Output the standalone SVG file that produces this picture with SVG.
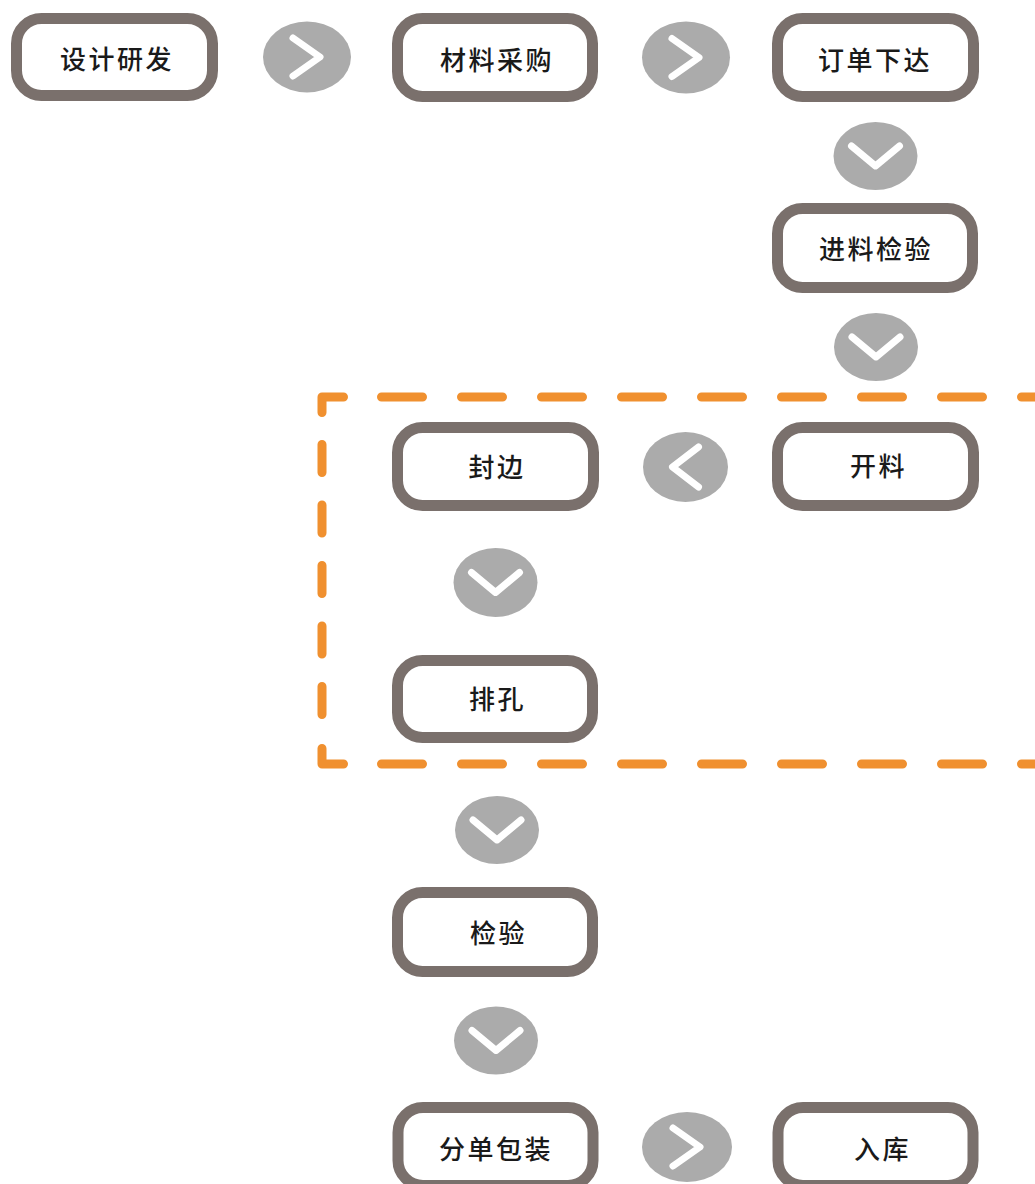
<svg xmlns="http://www.w3.org/2000/svg" xmlns:xlink="http://www.w3.org/1999/xlink" width="1035" height="1184" viewBox="0 0 1035 1184">
  <style>
    .box { fill: #ffffff; stroke: #7a706c; stroke-width: 11; }
    .lbl { font-family: "Noto Sans CJK SC", "Noto Sans", sans-serif; font-size: 26px; font-weight: 500; fill: #1a1a1a; text-anchor: middle; letter-spacing: 2.5px; }
    .dot { fill: #ababab; }
    .chev { fill: none; stroke: #ffffff; stroke-width: 7; stroke-linecap: round; stroke-linejoin: round; }
    .dash { fill: none; stroke: #f0902f; stroke-width: 9; stroke-linecap: round; stroke-linejoin: round; }
  </style>
  <defs>
    <path id="chev-right" class="chev" d="M-14,-19 L13,0 L-14,19"/>
    <path id="chev-left" class="chev" d="M13,-20 L-13,0 L13,20"/>
    <path id="chev-down" class="chev" d="M-24,-10 L0,10 L24,-10"/>
  </defs>

  <rect width="1035" height="1184" fill="#ffffff"/>

  <!-- dashed frame around the panel-processing steps -->
  <g id="frame">
    <path class="dash" d="M322,412.5 V397 H343.5"/>
    <path class="dash" d="M381.5,397 H1045" stroke-dasharray="41 39"/>
    <path class="dash" d="M322,444.5 V720" stroke-dasharray="28 32.5"/>
    <path class="dash" d="M322,748.5 V764 H343.5"/>
    <path class="dash" d="M381.5,764 H1045" stroke-dasharray="41 39"/>
  </g>

  <!-- arrow badges between steps -->
  <g id="connectors">
    <g id="c-design-purchase"><ellipse class="dot" cx="307" cy="57" rx="44" ry="35.5"/><use xlink:href="#chev-right" href="#chev-right" transform="translate(307,57)"/></g>
    <g id="c-purchase-order"><ellipse class="dot" cx="686" cy="57.5" rx="44" ry="36"/><use xlink:href="#chev-right" href="#chev-right" transform="translate(686,57.5)"/></g>
    <g id="c-order-inspect"><ellipse class="dot" cx="875.5" cy="156" rx="42" ry="34"/><use xlink:href="#chev-down" href="#chev-down" transform="translate(875.5,156)"/></g>
    <g id="c-inspect-cut"><ellipse class="dot" cx="876" cy="347" rx="42" ry="34"/><use xlink:href="#chev-down" href="#chev-down" transform="translate(876,347)"/></g>
    <g id="c-cut-edge"><ellipse class="dot" cx="685.5" cy="467" rx="42.5" ry="35"/><use xlink:href="#chev-left" href="#chev-left" transform="translate(685.5,467)"/></g>
    <g id="c-edge-drill"><ellipse class="dot" cx="495.5" cy="582.5" rx="42" ry="34.5"/><use xlink:href="#chev-down" href="#chev-down" transform="translate(495.5,582.5)"/></g>
    <g id="c-drill-check"><ellipse class="dot" cx="497" cy="830" rx="42" ry="34"/><use xlink:href="#chev-down" href="#chev-down" transform="translate(497,830)"/></g>
    <g id="c-check-pack"><ellipse class="dot" cx="496" cy="1040.5" rx="42" ry="34"/><use xlink:href="#chev-down" href="#chev-down" transform="translate(496,1040.5)"/></g>
    <g id="c-pack-store"><ellipse class="dot" cx="687" cy="1147" rx="45" ry="35"/><use xlink:href="#chev-right" href="#chev-right" transform="translate(687,1147)"/></g>
  </g>

  <!-- process steps -->
  <g id="n-design"><rect class="box" x="16.5" y="18.5" width="196" height="77" rx="25"/><text class="lbl" x="117" y="69">设计研发</text></g>
  <g id="n-purchase"><rect class="box" x="397.5" y="18.5" width="195" height="78" rx="25"/><text class="lbl" x="497" y="70">材料采购</text></g>
  <g id="n-order"><rect class="box" x="777.5" y="18.5" width="196" height="78" rx="25"/><text class="lbl" x="875" y="70">订单下达</text></g>
  <g id="n-incoming"><rect class="box" x="777.5" y="208.5" width="195" height="79" rx="25"/><text class="lbl" x="876" y="259">进料检验</text></g>
  <g id="n-cut"><rect class="box" x="777.5" y="427.5" width="196" height="78" rx="25"/><text class="lbl" x="878.5" y="476">开料</text></g>
  <g id="n-edge"><rect class="box" x="397.5" y="427.5" width="196" height="78" rx="25"/><text class="lbl" x="497" y="477">封边</text></g>
  <g id="n-drill"><rect class="box" x="397.5" y="660.5" width="195" height="77" rx="25"/><text class="lbl" x="497.5" y="709">排孔</text></g>
  <g id="n-check"><rect class="box" x="397.5" y="892.5" width="195" height="79" rx="25"/><text class="lbl" x="498.5" y="943">检验</text></g>
  <g id="n-pack"><rect class="box" x="398" y="1107.5" width="195" height="78" rx="25"/><text class="lbl" x="496" y="1159">分单包装</text></g>
  <g id="n-store"><rect class="box" x="778" y="1107.5" width="195" height="78" rx="25"/><text class="lbl" x="882.5" y="1159">入库</text></g>
</svg>
